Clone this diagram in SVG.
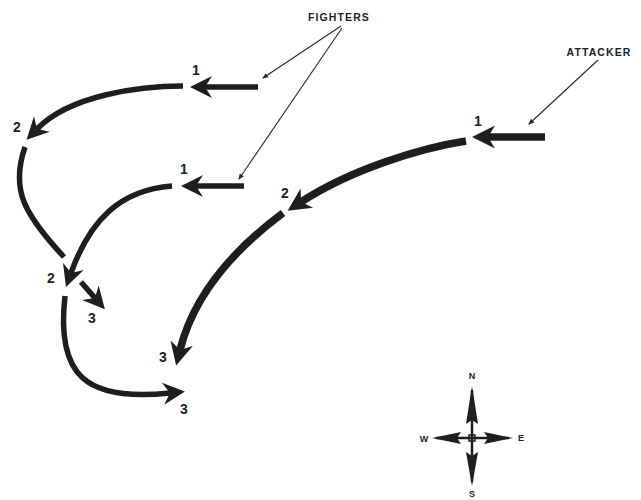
<svg xmlns="http://www.w3.org/2000/svg" width="641" height="500" viewBox="0 0 641 500">
  <style>
    .trk { fill: none; stroke: #1e1e1e; stroke-linecap: butt; stroke-linejoin: round; }
    .ftr { stroke-width: 5.5; }
    .atk { stroke-width: 7.5; }
    .lead { fill: none; stroke: #2a2a2a; stroke-width: 1.1; }
    .num { font-family: "Liberation Sans", Arial, sans-serif; font-weight: bold; font-size: 14px; fill: #1e1e1e; text-anchor: middle; }
    .tag { font-family: "Liberation Sans", Arial, sans-serif; font-weight: bold; font-size: 10.5px; letter-spacing: 1.1px; fill: #1e1e1e; text-anchor: middle; }
    .cmp { font-family: "Liberation Sans", Arial, sans-serif; font-weight: bold; font-size: 9px; fill: #1e1e1e; text-anchor: middle; }
    .head { fill: #1e1e1e; }
  </style>
  <defs>
    <!-- barbed arrowhead; reference point sits at the notch so the stroke ends inside the head -->
    <marker id="barb" viewBox="-8 -12 24 24" refX="0" refY="0" markerWidth="24" markerHeight="24" markerUnits="userSpaceOnUse" orient="auto">
      <path d="M-7,-11 L15,0 L-7,11 L0,0 Z" fill="#1e1e1e"/>
    </marker>
    <marker id="barbL" viewBox="-8 -12 26 24" refX="0" refY="0" markerWidth="26" markerHeight="24" markerUnits="userSpaceOnUse" orient="auto">
      <path d="M-7,-11.5 L16,0 L-7,11.5 L0,0 Z" fill="#1e1e1e"/>
    </marker>
    <marker id="tick" viewBox="-6 -4 8 8" refX="0" refY="0" markerWidth="8" markerHeight="8" markerUnits="userSpaceOnUse" orient="auto">
      <path d="M-5,-2.5 L1,0 L-5,2.5 Z" fill="#2a2a2a"/>
    </marker>
  </defs>

  <rect width="641" height="500" fill="#ffffff"/>

  <!-- leader lines from the captions -->
  <g id="connectors">
    <path class="lead" d="M341,26 L263,78" marker-end="url(#tick)"/>
    <path class="lead" d="M342,28 L239,179" marker-end="url(#tick)"/>
    <path class="lead" d="M598,60 L529,124" marker-end="url(#tick)"/>
  </g>

  <g id="caption-fighters">
    <text class="tag" x="339" y="21">FIGHTERS</text>
  </g>
  <g id="caption-attacker">
    <text class="tag" x="599" y="56">ATTACKER</text>
  </g>

  <!-- upper fighter track -->
  <g id="fighter-upper">
    <path class="trk ftr" d="M258,87 L205,87" marker-end="url(#barb)"/>
    <path class="trk ftr" d="M183,86 C140,86 70,95 37,129" marker-end="url(#barb)"/>
    <path class="trk ftr" d="M25,147 C10,190 25,215 64,257"/>
    <path class="trk ftr" d="M65,296 C56,375 85,402 170,393" marker-end="url(#barb)"/>
    <text class="num" x="196" y="75">1</text>
    <text class="num" x="17" y="132">2</text>
    <text class="num" x="184" y="414">3</text>
  </g>

  <!-- lower fighter track -->
  <g id="fighter-lower">
    <path class="trk ftr" d="M244,186 L196,186" marker-end="url(#barb)"/>
    <path class="trk ftr" d="M172,186 C120,190 90,220 71,273" marker-end="url(#barb)"/>
    <path class="trk ftr" d="M81,282 L95,298" marker-end="url(#barb)"/>
    <text class="num" x="184" y="174">1</text>
    <text class="num" x="51" y="283">2</text>
    <text class="num" x="92" y="323">3</text>
  </g>

  <!-- attacker track -->
  <g id="attacker">
    <path class="trk atk" d="M545,137 L488,137" marker-end="url(#barbL)"/>
    <path class="trk atk" d="M466,141 C420,148 350,170 301,202" marker-end="url(#barbL)"/>
    <path class="trk atk" d="M283,213 C240,245 195,290 180,350" marker-end="url(#barbL)"/>
    <text class="num" x="478" y="126">1</text>
    <text class="num" x="285" y="198">2</text>
    <text class="num" x="163" y="362">3</text>
  </g>

  <!-- compass rose -->
  <g id="compass">
    <line x1="472" y1="390" x2="472" y2="482" stroke="#1e1e1e" stroke-width="2.5"/>
    <line x1="436" y1="438" x2="509" y2="438" stroke="#1e1e1e" stroke-width="2.5"/>
    <rect x="469" y="435" width="6" height="6" fill="none" stroke="#1e1e1e" stroke-width="1.5"/>
    <path class="head" d="M472,386 L478,424 L472,420 L466,424 Z"/>
    <path class="head" d="M472,486 L478,452 L472,456 L466,452 Z"/>
    <path class="head" d="M432,438 L461,432 L457,438 L461,444 Z"/>
    <path class="head" d="M513,438 L484,432 L488,438 L484,444 Z"/>
    <text class="cmp" x="472" y="379">N</text>
    <text class="cmp" x="472" y="497">S</text>
    <text class="cmp" x="424" y="442">W</text>
    <text class="cmp" x="521" y="441">E</text>
  </g>
</svg>
